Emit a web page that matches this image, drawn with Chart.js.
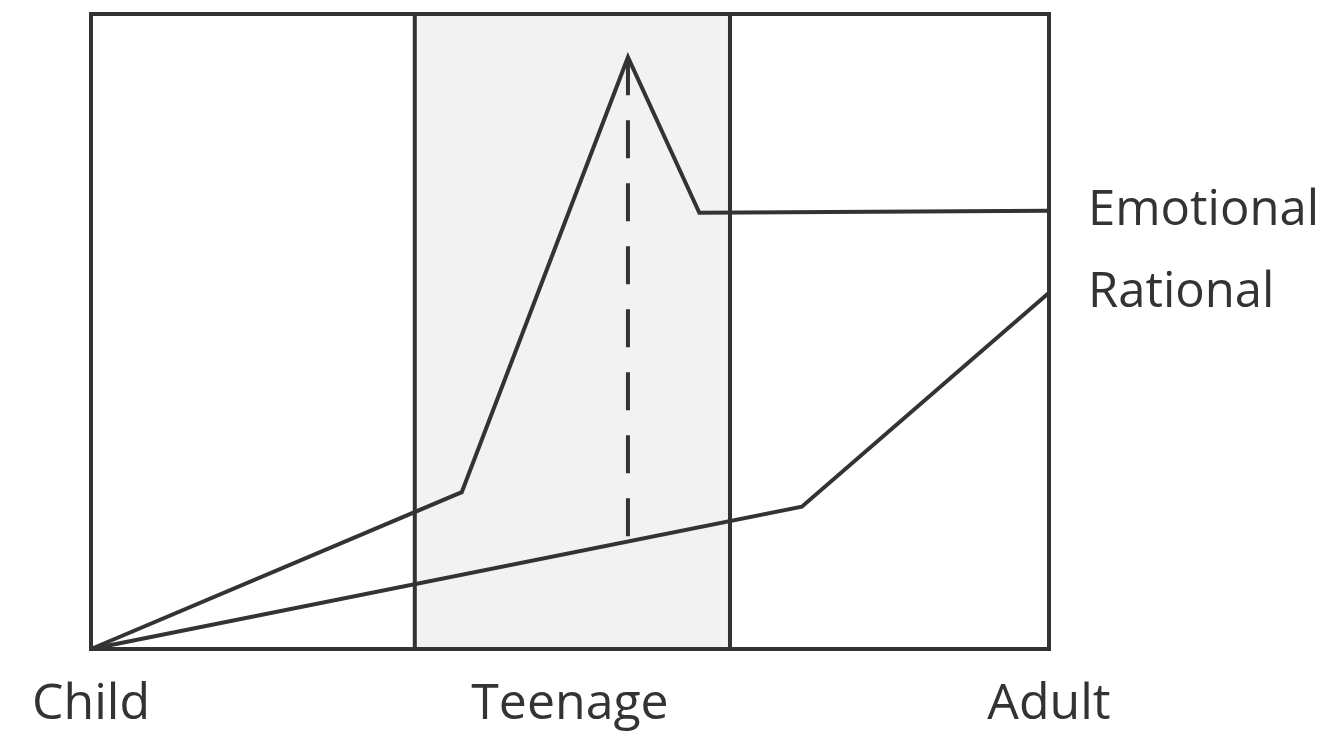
<!DOCTYPE html>
<html>
<head>
<meta charset="utf-8">
<script src="https://cdn.jsdelivr.net/npm/chart.js@4"></script>
<style>
  html, body { margin: 0; padding: 0; background: #fff; }
  #wrap { width: 1335px; height: 731px; }
</style>
</head>
<body>
<div id="wrap"><canvas id="myChart" width="1335" height="731"></canvas></div>
<script>
// stages along the bottom
const stageTicks = [0, 50, 100];
const stageLabels = ['Child', 'Teenage', 'Adult'];

// shaded teenage band (x from, x to)
const teenBand = [33.8, 66.7];

// emotional curve
const emotionalX = [0, 38.7, 56.05, 63.5, 100];
const emotionalY = [0, 24.7, 93.2, 68.7, 69.0];

// rational curve
const rationalX = [0, 74.2, 100];
const rationalY = [0, 22.4, 56.1];

// dashed gap marker (top to bottom)
const gapX = [56.05, 56.05];
const gapY = [93.2, 16.9];

const ink = '#333333';

function toPoints(xs, ys) {
  return xs.map((x, i) => ({ x: x, y: ys[i] }));
}

// draws the grey band and the frame
const framePlugin = {
  id: 'frame',
  beforeDatasetsDraw(chart) {
    const ctx = chart.ctx;
    const a = chart.chartArea;
    const xs = chart.scales.x;
    const x1 = xs.getPixelForValue(teenBand[0]);
    const x2 = xs.getPixelForValue(teenBand[1]);
    ctx.save();
    ctx.fillStyle = '#f2f2f2';
    ctx.fillRect(x1, a.top, x2 - x1, a.bottom - a.top);
    ctx.strokeStyle = ink;
    ctx.lineWidth = 4;
    ctx.beginPath();
    ctx.moveTo(x1, a.top); ctx.lineTo(x1, a.bottom);
    ctx.moveTo(x2, a.top); ctx.lineTo(x2, a.bottom);
    ctx.stroke();
    ctx.strokeRect(a.left, a.top, a.right - a.left, a.bottom - a.top);
    ctx.restore();
  }
};

// names written at the end of each curve
const endLabelPlugin = {
  id: 'endLabels',
  afterDatasetsDraw(chart) {
    const ctx = chart.ctx;
    const ys = chart.scales.y;
    ctx.save();
    ctx.font = '49px "Open Sans"';
    ctx.fillStyle = ink;
    ctx.textAlign = 'left';
    ctx.textBaseline = 'middle';
    chart.data.datasets.forEach(ds => {
      if (!ds.endLabel) return;
      const last = ds.data[ds.data.length - 1];
      ctx.fillText(ds.endLabel, chart.chartArea.right + 39, ys.getPixelForValue(last.y));
    });
    ctx.restore();
  }
};

const ctx = document.getElementById('myChart').getContext('2d');
new Chart(ctx, {
  type: 'line',
  data: {
    datasets: [
      {
        data: toPoints(emotionalX, emotionalY),
        endLabel: 'Emotional',
        borderColor: ink,
        borderWidth: 4,
        pointRadius: 0,
        tension: 0,
        clip: false
      },
      {
        data: toPoints(rationalX, rationalY),
        endLabel: 'Rational',
        borderColor: ink,
        borderWidth: 4,
        pointRadius: 0,
        tension: 0,
        clip: false
      },
      {
        data: toPoints(gapX, gapY),
        borderColor: ink,
        borderWidth: 4,
        borderDash: [38, 25],
        borderCapStyle: 'butt',
        pointRadius: 0,
        clip: false
      }
    ]
  },
  options: {
    responsive: false,
    animation: false,
    events: [],
    layout: { padding: { left: 91, right: 286, top: 14, bottom: 0 } },
    plugins: {
      legend: { display: false },
      tooltip: { enabled: false }
    },
    scales: {
      x: {
        type: 'linear',
        min: 0,
        max: 100,
        grid: { display: false },
        border: { display: false },
        afterBuildTicks: (scale) => { scale.ticks = stageTicks.map(v => ({ value: v })); },
        afterFit: (scale) => { scale.height = 82; },
        ticks: {
          padding: 18,
          color: ink,
          font: { family: '"Open Sans"', size: 50 },
          maxRotation: 0,
          autoSkip: false,
          callback: (value, index) => stageLabels[index]
        }
      },
      y: {
        type: 'linear',
        min: 0,
        max: 100,
        display: false
      }
    }
  },
  plugins: [framePlugin, endLabelPlugin]
});
</script>
</body>
</html>
